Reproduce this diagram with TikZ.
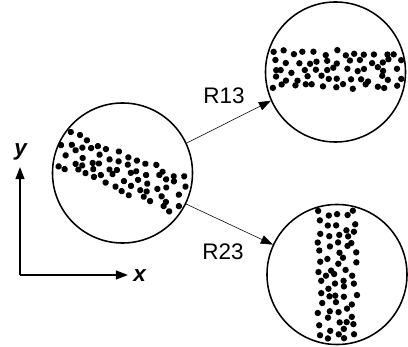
\documentclass[tikz,border=0pt]{standalone}
\usepackage{fontspec}
\setmainfont{Liberation Sans}
\usepackage{tikz}
\usetikzlibrary{arrows.meta}

\tikzset{
  sample/.style={line width=1.1pt,circle,draw,minimum size=3.5cm,inner sep=0pt},
  rot/.style={-{Triangle[length=3mm,width=2.2mm]}},
  axis/.style={line width=1.1pt,-{Triangle[length=3mm,width=2.2mm]}},
  lbl/.style={font=\fontsize{16}{19}\selectfont}
}

\begin{document}
\begin{tikzpicture}[x=0.025cm,y=-0.025cm]
\useasboundingbox (0,0) rectangle (408,347);

% original sample
\node[sample] (orig) at (122.5,173) {};

% rotated samples
\node[sample] (r13) at (335.5,72) {};
\node[sample] (r23) at (337,274.5) {};

% dot bands: diagonal, horizontal, vertical
\pgfmathsetseed{11}
\foreach \cx/\cy/\ang in {122/172/-22, 337/70/0, 337/276/-90} {
  \begin{scope}[shift={(\cx,\cy)},rotate=\ang]
  \foreach \r in {0,...,4} {
    \foreach \c in {-6,...,6} {
      \fill ({\c*10.2+mod(\r,2)*5-2.5+3*rand},{(\r-2)*8.5+3*rand}) circle (3.2);
    }
  }
  \end{scope}
}

% rotation arrows
\draw[rot] (orig.25) -- (r13.204);
\draw[rot] (orig.334) -- (r23.155);
\node[lbl] (l13) at (224,96) {R13};
\node[lbl] (l23) at (223,252) {R23};

% axes
\coordinate (o) at (20,275);
\coordinate (ytip) at (20,167);
\coordinate (xtip) at (128,275);
\draw[axis] (o) -- (ytip);
\draw[axis] (o) -- (xtip);
\node[lbl] (ylab) at (21,152) {\textbf{\textit{y}}};
\node[lbl] (xlab) at (140,276) {\textbf{\textit{x}}};

\end{tikzpicture}
\end{document}
